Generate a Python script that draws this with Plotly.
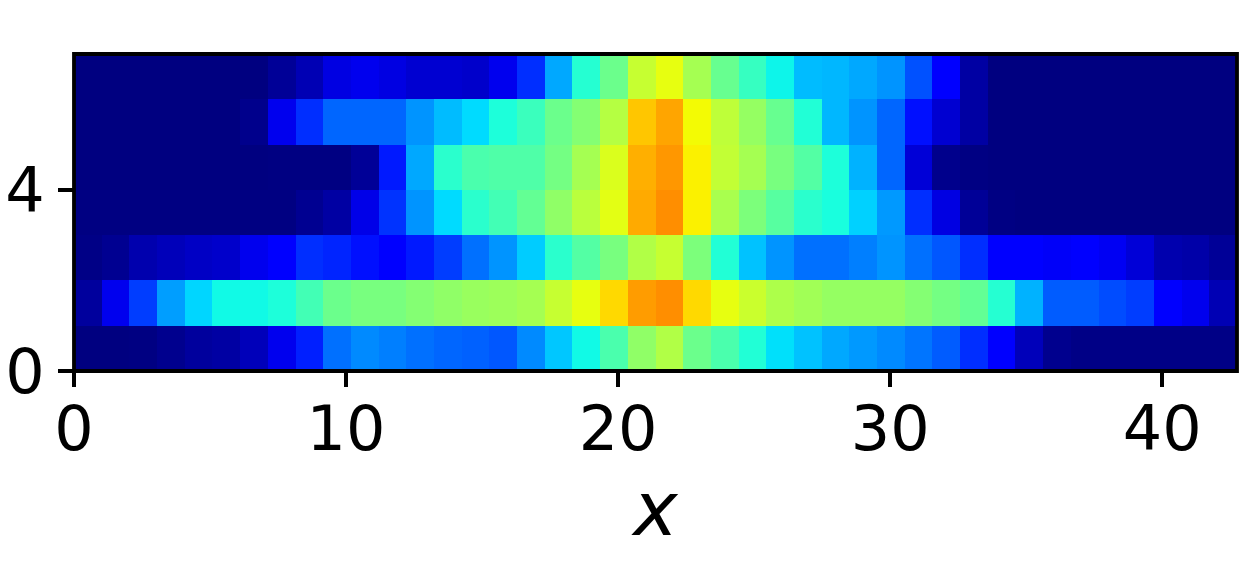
import plotly.graph_objects as go

row0 = [0.0,0.0,0.002,0.012,0.025,0.03,0.05,0.095,0.155,0.235,0.26,0.25,0.235,0.225,0.22,0.21,0.26,0.32,0.37,0.44,0.525,0.565,0.48,0.44,0.39,0.345,0.315,0.29,0.275,0.26,0.24,0.215,0.17,0.115,0.05,0.012,0.005,0.005,0.005,0.005,0.005,0.005]
row1 = [0.025,0.095,0.185,0.28,0.335,0.37,0.37,0.385,0.43,0.48,0.495,0.495,0.51,0.525,0.535,0.54,0.55,0.59,0.63,0.68,0.745,0.76,0.68,0.63,0.595,0.56,0.545,0.53,0.53,0.53,0.51,0.49,0.47,0.395,0.30,0.215,0.215,0.20,0.185,0.115,0.095,0.045]
row2 = [0.005,0.015,0.04,0.05,0.06,0.065,0.095,0.11,0.17,0.16,0.14,0.125,0.15,0.185,0.235,0.27,0.325,0.40,0.45,0.495,0.565,0.59,0.50,0.39,0.315,0.27,0.235,0.235,0.25,0.27,0.235,0.21,0.17,0.125,0.115,0.105,0.11,0.10,0.075,0.04,0.035,0.02]
row3 = [0.002,0.002,0.002,0.002,0.002,0.002,0.002,0.002,0.015,0.03,0.09,0.175,0.27,0.34,0.40,0.43,0.47,0.525,0.575,0.625,0.73,0.76,0.655,0.555,0.50,0.455,0.40,0.38,0.33,0.275,0.17,0.085,0.02,0.003,0.0,0.0,0.0,0.0,0.0,0.0,0.0,0.0]
row4 = [0.0,0.0,0.0,0.0,0.0,0.0,0.0,0.002,0.002,0.002,0.02,0.15,0.29,0.40,0.44,0.445,0.445,0.49,0.55,0.615,0.725,0.75,0.655,0.585,0.55,0.495,0.45,0.385,0.30,0.225,0.075,0.01,0.003,0.0,0.0,0.0,0.0,0.0,0.0,0.0,0.0,0.0]
row5 = [0.0,0.0,0.0,0.0,0.0,0.0,0.01,0.095,0.17,0.225,0.225,0.225,0.27,0.31,0.34,0.385,0.42,0.48,0.51,0.57,0.70,0.735,0.645,0.58,0.53,0.475,0.39,0.305,0.27,0.225,0.14,0.07,0.03,0.0,0.0,0.0,0.0,0.0,0.0,0.0,0.0,0.0]
row6 = [0.0,0.0,0.0,0.0,0.0,0.0,0.0,0.02,0.045,0.085,0.095,0.085,0.07,0.07,0.065,0.095,0.17,0.29,0.395,0.48,0.59,0.63,0.55,0.475,0.415,0.365,0.31,0.305,0.29,0.27,0.205,0.11,0.03,0.0,0.0,0.0,0.0,0.0,0.0,0.0,0.0,0.0]
z_rows = [row0, row1, row2, row3, row4, row5, row6]
x_ticks = [0, 10, 20, 30, 40]
y_ticks = [0, 4]
x_title = "x"

jet = [
    [0.0, "rgb(0,0,128)"], [0.11, "rgb(0,0,255)"], [0.125, "rgb(0,0,255)"],
    [0.34, "rgb(0,219,255)"], [0.35, "rgb(0,230,247)"], [0.375, "rgb(21,255,226)"],
    [0.64, "rgb(239,255,8)"], [0.65, "rgb(247,246,0)"], [0.66, "rgb(255,236,0)"],
    [0.89, "rgb(255,19,0)"], [0.91, "rgb(232,0,0)"], [1.0, "rgb(128,0,0)"],
]

fig = go.Figure(go.Heatmap(
    z=z_rows, x0=0.509, dx=1.018, y0=0.5, dy=1.0,
    colorscale=jet, zmin=0, zmax=1, showscale=False,
))
axis_style = dict(
    showgrid=False, zeroline=False, showline=False,
    ticks="outside", ticklen=15, tickwidth=4, tickcolor="black",
    tickfont=dict(family="DejaVu Sans", size=62, color="black"),
)
fig.update_xaxes(range=[0, 42.75], tickvals=x_ticks, ticktext=[str(v) for v in x_ticks],
                 ticklabelstandoff=-11,
                 title=dict(text=f"<i>{x_title}</i>", font=dict(family="DejaVu Sans", size=75, color="black"), standoff=0),
                 **axis_style)
fig.update_yaxes(range=[0, 7.0], tickvals=y_ticks, ticktext=[str(v) for v in y_ticks], ticklabelstandoff=1, **axis_style)
fig.add_shape(type="rect", xref="paper", yref="paper", x0=0, x1=1, y0=0, y1=1,
              line=dict(color="black", width=3.8), fillcolor="rgba(0,0,0,0)", layer="above")
fig.update_layout(
    width=1250, height=580, autosize=False,
    margin=dict(l=74, r=13, t=54, b=209, pad=0, autoexpand=False),
    paper_bgcolor="white", plot_bgcolor="white",
)
fig.write_html("out.html", config={"displayModeBar": False},
               post_script="document.body.style.margin='0';")
